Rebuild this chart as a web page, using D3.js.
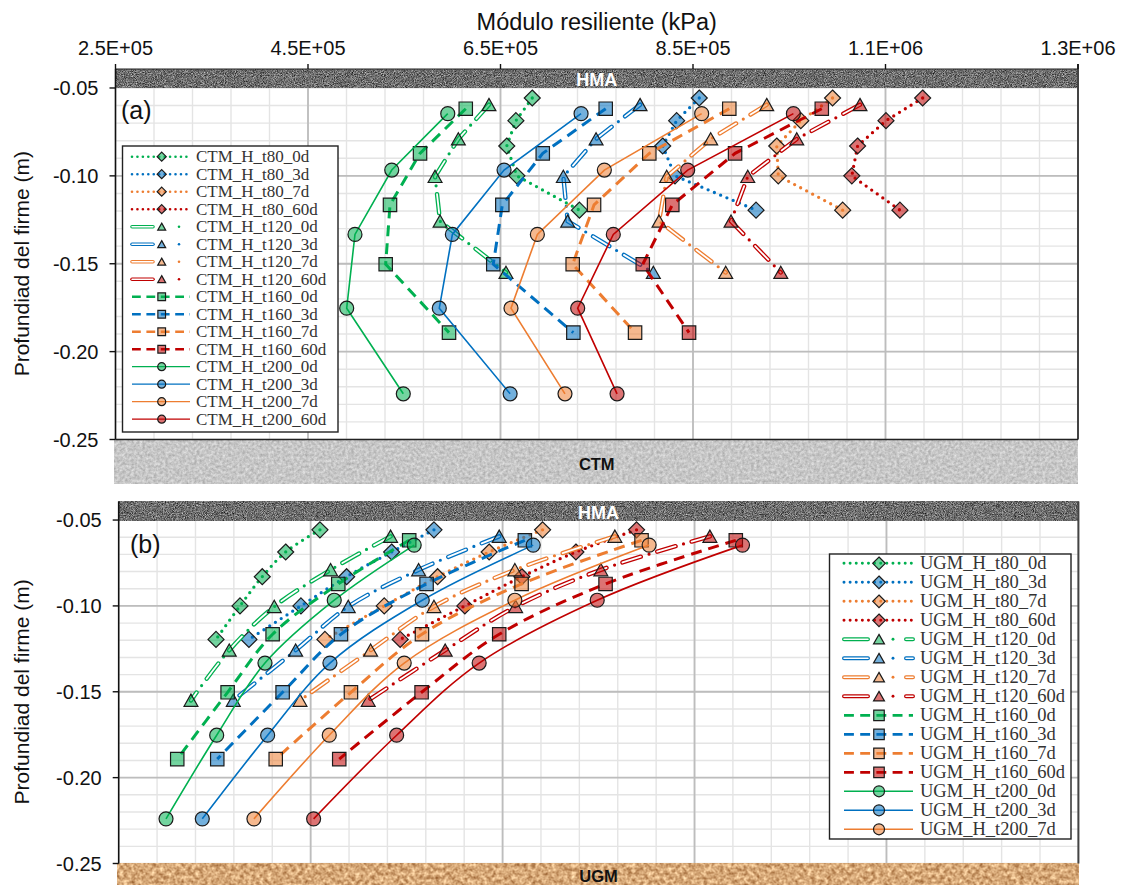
<!DOCTYPE html>
<html><head><meta charset="utf-8">
<script src="https://cdn.jsdelivr.net/npm/d3@7"></script>
<style>body{margin:0;background:#fff} svg{display:block}</style>
</head><body>
<svg id="chart" width="1124" height="885"></svg>
<script>
// ---------------- DATA ----------------
const depthT80  = [-0.0557, -0.0686, -0.0830, -0.1000, -0.1195];
const depthT120 = [-0.0595, -0.0790, -0.1004, -0.1258, -0.1550];
const depthT160 = [-0.0618, -0.0872, -0.1165, -0.1503, -0.1892];
const depthT200 = [-0.0646, -0.0967, -0.1333, -0.1753, -0.2240];

const xTickValues = [250000, 450000, 650000, 850000, 1050000, 1250000];
const xTickLabels = ["2.5E+05", "4.5E+05", "6.5E+05", "8.5E+05", "1.1E+06", "1.3E+06"];
const yTickValues = [-0.05, -0.10, -0.15, -0.20, -0.25];
const yTickLabels = ["-0.05", "-0.10", "-0.15", "-0.20", "-0.25"];

const thicknesses = ["t80", "t120", "t160", "t200"];
const ages = ["0d", "3d", "7d", "60d"];

// (a) CTM
const CTM_H_t80_0d  = [683000, 666000, 656500, 667000, 732000];
const CTM_H_t80_3d  = [856500, 833000, 818500, 831300, 915500];
const CTM_H_t80_7d  = [995000, 962000, 937000, 938600, 1005500];
const CTM_H_t80_60d = [1088600, 1050500, 1021000, 1015000, 1065000];
const CTM_H_t120_0d  = [638000, 606200, 582000, 587200, 655700];
const CTM_H_t120_3d  = [795000, 749300, 715300, 719800, 808800];
const CTM_H_t120_7d  = [926600, 868400, 822700, 814700, 884000];
const CTM_H_t120_60d = [1023500, 957800, 906900, 889500, 941200];
const CTM_H_t160_0d  = [613900, 566400, 535200, 530700, 596500];
const CTM_H_t160_3d  = [759300, 693900, 651900, 642500, 725700];
const CTM_H_t160_7d  = [887700, 804600, 747200, 725000, 789800];
const CTM_H_t160_60d = [983800, 893700, 828500, 797800, 845900];
const CTM_H_t200_0d  = [595200, 537000, 498800, 490200, 549000];
const CTM_H_t200_3d  = [733700, 653700, 600000, 586400, 660000];
const CTM_H_t200_7d  = [859000, 757900, 688300, 660900, 717000];
const CTM_H_t200_60d = [954300, 844500, 767200, 730200, 771100];

// (b) UGM
const UGM_H_t80_0d  = [459700, 424000, 399600, 376400, 351400];
const UGM_H_t80_3d  = [578500, 534400, 487500, 439900, 385700];
const UGM_H_t80_7d  = [691700, 636000, 582300, 526700, 464900];
const UGM_H_t80_60d = [789600, 726400, 670100, 610700, 543300];
const UGM_H_t120_0d  = [533300, 470800, 412100, 365200, 325300];
const UGM_H_t120_3d  = [646500, 562500, 489200, 434400, 369400];
const UGM_H_t120_7d  = [767000, 662800, 578500, 512500, 438900];
const UGM_H_t120_60d = [866000, 752400, 663600, 590200, 510000];
const UGM_H_t160_0d  = [552700, 478800, 410400, 363500, 311000];
const UGM_H_t160_3d  = [673200, 570800, 481600, 420800, 352700];
const UGM_H_t160_7d  = [794800, 669800, 566000, 492000, 413600];
const UGM_H_t160_60d = [893000, 757300, 646500, 565600, 479800];
const UGM_H_t200_0d  = [557900, 474600, 402400, 352100, 299300];
const UGM_H_t200_3d  = [681900, 566300, 470100, 405200, 337100];
const UGM_H_t200_7d  = [802700, 662800, 547500, 469400, 390900];
const UGM_H_t200_60d = [900000, 748600, 625600, 539600, 453100];

// tables built from the arrays
const depthOf = {t80: depthT80, t120: depthT120, t160: depthT160, t200: depthT200};
const ctmTable = {
  t80: {"0d": CTM_H_t80_0d, "3d": CTM_H_t80_3d, "7d": CTM_H_t80_7d, "60d": CTM_H_t80_60d},
  t120: {"0d": CTM_H_t120_0d, "3d": CTM_H_t120_3d, "7d": CTM_H_t120_7d, "60d": CTM_H_t120_60d},
  t160: {"0d": CTM_H_t160_0d, "3d": CTM_H_t160_3d, "7d": CTM_H_t160_7d, "60d": CTM_H_t160_60d},
  t200: {"0d": CTM_H_t200_0d, "3d": CTM_H_t200_3d, "7d": CTM_H_t200_7d, "60d": CTM_H_t200_60d}
};
const ugmTable = {
  t80: {"0d": UGM_H_t80_0d, "3d": UGM_H_t80_3d, "7d": UGM_H_t80_7d, "60d": UGM_H_t80_60d},
  t120: {"0d": UGM_H_t120_0d, "3d": UGM_H_t120_3d, "7d": UGM_H_t120_7d, "60d": UGM_H_t120_60d},
  t160: {"0d": UGM_H_t160_0d, "3d": UGM_H_t160_3d, "7d": UGM_H_t160_7d, "60d": UGM_H_t160_60d},
  t200: {"0d": UGM_H_t200_0d, "3d": UGM_H_t200_3d, "7d": UGM_H_t200_7d, "60d": UGM_H_t200_60d}
};

// ---------------- STYLE ----------------
const ageColor = {"0d": "#00B050", "3d": "#0070C0", "7d": "#ED7D31", "60d": "#C00000"};
const shapeOf = {t80: "diamond", t120: "triangle", t160: "square", t200: "circle"};
const SANS = "'Liberation Sans', Arial, sans-serif";
const SERIF = "'Liberation Serif', 'Times New Roman', serif";

const svg = d3.select("#chart");
const defs = svg.append("defs");

function noiseFilter(id, matrix, freq, seed) {
  const f = defs.append("filter").attr("id", id)
    .attr("filterUnits", "objectBoundingBox")
    .attr("x", 0).attr("y", 0).attr("width", 1).attr("height", 1)
    .attr("color-interpolation-filters", "sRGB");
  f.append("feTurbulence").attr("type", "fractalNoise")
    .attr("baseFrequency", freq).attr("numOctaves", 3).attr("seed", seed);
  f.append("feColorMatrix").attr("type", "matrix").attr("values", matrix);
}
noiseFilter("texHMA", "0.9 0 0 0 -0.02  0.9 0 0 0 -0.02  0.9 0 0 0 -0.02  0 0 0 0 1", 1.1, 2);
noiseFilter("texCTM", "0.3 0 0 0 0.63  0.3 0 0 0 0.63  0.3 0 0 0 0.63  0 0 0 0 1", 0.35, 5);
noiseFilter("texUGM", "0.6 0 0 0 0.54  0.7 0 0 0 0.31  0.7 0 0 0 0.12  0 0 0 0 1", 0.25, 7);

function markerPath(shape, s) {
  switch (shape) {
    case "diamond": return `M0,${-s}L${s},0L0,${s}L${-s},0Z`;
    case "square": return `M${-s},${-s}H${s}V${s}H${-s}Z`;
    case "triangle": return `M0,${-s * 0.95}L${s * 1.05},${s * 0.9}L${-s * 1.05},${s * 0.9}Z`;
    case "circle": return `M${s},0A${s},${s} 0 1,1 ${-s},0A${s},${s} 0 1,1 ${s},0Z`;
  }
}
const markerSize = {diamond: 8, square: 6.7, triangle: 6.6, circle: 7};

function styledLine(g, d, th, color, k, legendT120) {
  if (th === "t80") {
    g.append("path").attr("d", d).attr("fill", "none").attr("stroke", color)
      .attr("stroke-width", 3.3 * k).attr("stroke-linecap", "round")
      .attr("stroke-dasharray", `0 ${6.8 * k}`);
  } else if (th === "t120") {
    const dash = legendT120 ? legendT120.dash : "19 17";
    g.append("path").attr("d", d).attr("fill", "none").attr("stroke", color)
      .attr("stroke-width", 4.4 * k).attr("stroke-linecap", "round")
      .attr("stroke-dasharray", dash);
    g.append("path").attr("d", d).attr("fill", "none").attr("stroke", "#fff")
      .attr("stroke-width", 1.8 * k).attr("stroke-linecap", "round")
      .attr("stroke-dasharray", dash);
    g.append("path").attr("d", d).attr("fill", "none").attr("stroke", color)
      .attr("stroke-width", 3.2 * k).attr("stroke-linecap", "round")
      .attr("stroke-dasharray", legendT120 ? "0 200" : "0 36")
      .attr("stroke-dashoffset", legendT120 ? legendT120.dotOff : 8.5);
  } else if (th === "t160") {
    g.append("path").attr("d", d).attr("fill", "none").attr("stroke", color)
      .attr("stroke-width", 3 * k).attr("stroke-dasharray", `${11 * k} ${7 * k}`);
  } else {
    g.append("path").attr("d", d).attr("fill", "none").attr("stroke", color)
      .attr("stroke-width", 1.6 * k);
  }
}

function marker(g, x, y, th, color, s) {
  g.append("path").attr("transform", `translate(${x},${y})`)
    .attr("d", markerPath(shapeOf[th], s))
    .attr("fill", color).attr("fill-opacity", 0.55)
    .attr("stroke", "#1a1a1a").attr("stroke-width", 1.2);
}

const yDomain = [-0.25, -0.0392];

function drawPanel(cfg) {
  const x = d3.scaleLinear().domain([250000, 1250000]).range([cfg.left, cfg.right]);
  const y = d3.scaleLinear().domain(yDomain).range([cfg.bottom, cfg.top]);
  const g = svg.append("g");

  // minor grid
  const minorX = d3.range(250000, 1250001, 40000);
  const minorY = d3.range(-0.25, -0.0499, 0.01);
  g.selectAll(null).data(minorX).enter().append("line")
    .attr("x1", d => x(d)).attr("x2", d => x(d)).attr("y1", y(-0.05)).attr("y2", y(-0.25))
    .attr("stroke", "#e4e4e4").attr("stroke-width", 1.4);
  g.selectAll(null).data(minorY).enter().append("line")
    .attr("y1", d => y(d)).attr("y2", d => y(d)).attr("x1", cfg.left).attr("x2", cfg.right)
    .attr("stroke", "#e4e4e4").attr("stroke-width", 1.4);
  // major grid
  g.selectAll(null).data(xTickValues.slice(1, -1)).enter().append("line")
    .attr("x1", d => x(d)).attr("x2", d => x(d)).attr("y1", y(-0.05)).attr("y2", y(-0.25))
    .attr("stroke", "#bdbdbd").attr("stroke-width", 1.8);
  g.selectAll(null).data(yTickValues.slice(1, -1)).enter().append("line")
    .attr("y1", d => y(d)).attr("y2", d => y(d)).attr("x1", cfg.left).attr("x2", cfg.right)
    .attr("stroke", "#bdbdbd").attr("stroke-width", 1.8);

  // HMA layer
  g.append("rect").attr("x", cfg.left).attr("width", cfg.right - cfg.left)
    .attr("y", y(yDomain[1])).attr("height", y(-0.05) - y(yDomain[1]))
    .attr("fill", "#555").attr("filter", "url(#texHMA)");
  g.append("text").attr("x", (cfg.left + cfg.right) / 2).attr("y", y(-0.05) - 1.5)
    .attr("text-anchor", "middle").attr("font-family", SANS).attr("font-weight", "bold")
    .attr("font-size", 18).attr("fill", "#fff").text("HMA");

  // base layer
  g.append("rect").attr("x", cfg.left - 1).attr("width", cfg.right - cfg.left + 1)
    .attr("y", y(-0.25)).attr("height", cfg.baseH)
    .attr("fill", cfg.baseFill).attr("filter", `url(#${cfg.baseTex})`);
  g.append("text").attr("x", (cfg.left + cfg.right) / 2).attr("y", y(-0.25) + cfg.baseTextDy)
    .attr("text-anchor", "middle").attr("font-family", SANS).attr("font-weight", "bold")
    .attr("font-size", 16.5).attr("fill", "#111").text(cfg.baseName);

  // borders
  g.append("line").attr("x1", cfg.left).attr("x2", cfg.left).attr("y1", cfg.top).attr("y2", y(-0.25))
    .attr("stroke", "#111").attr("stroke-width", 1.6);
  g.append("line").attr("x1", cfg.right).attr("x2", cfg.right).attr("y1", cfg.top - (cfg.xAxis ? 5 : 0)).attr("y2", y(-0.25))
    .attr("stroke", "#444").attr("stroke-width", 2);
  if (cfg.bottomLine) {
    g.append("line").attr("x1", cfg.left).attr("x2", cfg.right).attr("y1", y(-0.25)).attr("y2", y(-0.25))
      .attr("stroke", "#222").attr("stroke-width", 1.6);
  }

  // y axis ticks & labels
  yTickValues.forEach((v, i) => {
    g.append("line").attr("x1", cfg.left - 6).attr("x2", cfg.left).attr("y1", y(v)).attr("y2", y(v))
      .attr("stroke", "#111").attr("stroke-width", 1.4);
    g.append("text").attr("x", cfg.left - 17).attr("y", y(v) + 7)
      .attr("text-anchor", "end").attr("font-family", SANS).attr("font-size", 20)
      .attr("fill", "#111").text(yTickLabels[i]);
  });
  g.append("text").attr("transform", `translate(29,${(y(-0.05) + y(-0.25)) / 2}) rotate(-90)`)
    .attr("text-anchor", "middle").attr("font-family", SANS).attr("font-size", 21)
    .attr("fill", "#111").text("Profundiad del firme (m)");

  // x axis at top
  if (cfg.xAxis) {
    g.append("line").attr("x1", cfg.left).attr("x2", cfg.right).attr("y1", cfg.top).attr("y2", cfg.top)
      .attr("stroke", "#222").attr("stroke-width", 1.2);
    xTickValues.forEach((v, i) => {
      g.append("line").attr("x1", x(v)).attr("x2", x(v)).attr("y1", cfg.top - 5).attr("y2", cfg.top)
        .attr("stroke", "#111").attr("stroke-width", 1.4);
      g.append("text").attr("x", x(v)).attr("y", 55).attr("text-anchor", "middle")
        .attr("font-family", SANS).attr("font-size", 20).attr("fill", "#111").text(xTickLabels[i]);
    });
    g.append("text").attr("x", (cfg.left + cfg.right) / 2).attr("y", 30).attr("text-anchor", "middle")
      .attr("font-family", SANS).attr("font-size", 23.5).attr("fill", "#111").text("Módulo resiliente (kPa)");
  }

  // panel label
  g.append("text").attr("x", cfg.labelX).attr("y", cfg.labelY)
    .attr("font-family", SANS).attr("font-size", 25).attr("fill", "#111").text(cfg.label);

  // series
  const lineGen = d3.line().x(d => x(d[0])).y(d => y(d[1]));
  if (cfg.smooth) lineGen.curve(d3.curveCatmullRom.alpha(0.5));
  thicknesses.forEach(th => {
    ages.forEach(ag => {
      const vals = cfg.table[th][ag];
      const pts = vals.map((v, i) => [v, depthOf[th][i]]);
      const sg = g.append("g");
      styledLine(sg, lineGen(pts), th, ageColor[ag], 1, null);
      pts.forEach(p => marker(sg, x(p[0]), y(p[1]), th, ageColor[ag], markerSize[shapeOf[th]]));
    });
  });

  // legend
  const L = cfg.legend;
  const lg = g.append("g");
  lg.append("rect").attr("x", L.x0).attr("y", L.y0).attr("width", L.x1 - L.x0).attr("height", L.y1 - L.y0)
    .attr("fill", "#fff").attr("stroke", "#222").attr("stroke-width", 1.4);
  let idx = 0;
  thicknesses.forEach(th => {
    ages.forEach(ag => {
      if (L.exclude && L.exclude === `${th}_${ag}`) return;
      const yy = L.first + idx * L.step;
      idx++;
      const d = `M${L.lx0},${yy}H${L.lx1}`;
      styledLine(lg, d, th, ageColor[ag], L.k, L.t120);
      marker(lg, L.mx, yy, th, ageColor[ag], L.ms * markerSize[shapeOf[th]] / 7);
      lg.append("text").attr("x", L.tx).attr("y", yy + L.dy).attr("font-family", SERIF)
        .attr("font-size", L.fs).attr("fill", "#333").text(`${cfg.prefix}_H_${th}_${ag}`);
    });
  });
}

drawPanel({
  prefix: "CTM", table: ctmTable, left: 115.5, right: 1078, top: 69, bottom: 439.5,
  xAxis: true, smooth: false, bottomLine: true,
  baseName: "CTM", baseTex: "texCTM", baseFill: "#bbb", baseH: 44, baseTextDy: 30,
  label: "(a)", labelX: 121, labelY: 119,
  legend: {x0: 122.5, y0: 146, x1: 338, y1: 432, first: 156.7, step: 17.5,
    lx0: 132, lx1: 190, mx: 161.7, tx: 196, fs: 17, dy: 5.5, k: 0.8, ms: 4,
    t120: {dash: "21 200", dotOff: -47}}
});

drawPanel({
  prefix: "UGM", table: ugmTable, left: 118.7, right: 1078.4, top: 501.5, bottom: 863.5,
  xAxis: false, smooth: true, bottomLine: false,
  baseName: "UGM", baseTex: "texUGM", baseFill: "#d4a070", baseH: 22, baseTextDy: 18,
  label: "(b)", labelX: 130, labelY: 553,
  legend: {x0: 829.5, y0: 554, x1: 1071, y1: 839, first: 563.3, step: 19,
    lx0: 844, lx1: 913, mx: 879, tx: 920, fs: 18.5, dy: 6, k: 0.9, ms: 5.5,
    exclude: "t200_60d",
    t120: {dash: "24 38 7 200", dotOff: -49}}
});
</script>
</body></html>
